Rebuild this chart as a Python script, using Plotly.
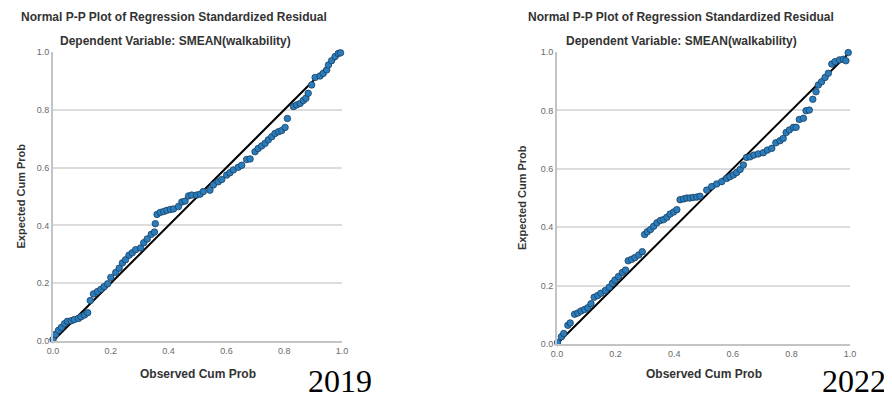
import plotly.graph_objects as go

# ---- Data ----
obs_2019 = [0.0, 0.009, 0.019, 0.029, 0.04, 0.05, 0.063, 0.074, 0.088, 0.097, 0.109, 0.12, 0.129, 0.14,
            0.154, 0.166, 0.177, 0.189, 0.2, 0.217, 0.229, 0.24, 0.251, 0.263, 0.274, 0.286, 0.303,
            0.314, 0.326, 0.34, 0.351, 0.354, 0.36, 0.371, 0.383, 0.394, 0.406, 0.417, 0.434, 0.446,
            0.457, 0.469, 0.48, 0.497, 0.509, 0.52, 0.543, 0.555, 0.572, 0.584, 0.601, 0.612, 0.624,
            0.641, 0.653, 0.67, 0.682, 0.699, 0.71, 0.722, 0.734, 0.745, 0.757, 0.768, 0.78, 0.791,
            0.803, 0.811, 0.832, 0.843, 0.855, 0.866, 0.875, 0.883, 0.895, 0.907, 0.924, 0.935,
            0.947, 0.953, 0.964, 0.976, 0.987, 0.995]
exp_2019 = [0.005, 0.023, 0.037, 0.047, 0.06, 0.068, 0.07, 0.074, 0.078, 0.084, 0.09, 0.098, 0.14, 0.163,
            0.171, 0.179, 0.188, 0.198, 0.22, 0.237, 0.252, 0.27, 0.281, 0.297, 0.305, 0.316, 0.322,
            0.34, 0.353, 0.369, 0.377, 0.406, 0.438, 0.445, 0.448, 0.452, 0.455, 0.457, 0.465, 0.481,
            0.484, 0.502, 0.505, 0.505, 0.508, 0.517, 0.522, 0.54, 0.551, 0.559, 0.574, 0.582, 0.592,
            0.601, 0.608, 0.628, 0.63, 0.655, 0.666, 0.675, 0.684, 0.696, 0.707, 0.718, 0.724, 0.728,
            0.739, 0.77, 0.811, 0.817, 0.822, 0.832, 0.84, 0.857, 0.886, 0.912, 0.917, 0.926, 0.938,
            0.955, 0.97, 0.984, 0.995, 0.997]

obs_2022 = [0.002, 0.015, 0.023, 0.037, 0.045, 0.06, 0.071, 0.082, 0.094, 0.105, 0.116, 0.127, 0.139,
            0.15, 0.165, 0.178, 0.189, 0.198, 0.21, 0.223, 0.234, 0.243, 0.255, 0.266, 0.279, 0.291,
            0.299, 0.308, 0.319, 0.33, 0.341, 0.353, 0.364, 0.375, 0.386, 0.398, 0.409, 0.42, 0.432,
            0.443, 0.454, 0.465, 0.477, 0.488, 0.511, 0.528, 0.545, 0.562, 0.579, 0.59, 0.602, 0.613,
            0.625, 0.636, 0.647, 0.659, 0.672, 0.687, 0.704, 0.718, 0.733, 0.747, 0.761, 0.772, 0.782,
            0.793, 0.807, 0.816, 0.827, 0.841, 0.85, 0.861, 0.873, 0.884, 0.892, 0.903, 0.915, 0.926,
            0.938, 0.949, 0.964, 0.977, 0.986, 0.994]
exp_2022 = [0.005, 0.025, 0.036, 0.064, 0.072, 0.102, 0.106, 0.113, 0.118, 0.124, 0.138, 0.16, 0.166,
            0.174, 0.183, 0.194, 0.208, 0.219, 0.231, 0.245, 0.253, 0.285, 0.29, 0.296, 0.305, 0.316,
            0.375, 0.384, 0.392, 0.403, 0.415, 0.423, 0.426, 0.434, 0.445, 0.452, 0.46, 0.494, 0.497,
            0.5, 0.5, 0.502, 0.503, 0.506, 0.527, 0.539, 0.548, 0.556, 0.567, 0.573, 0.579, 0.587,
            0.598, 0.613, 0.639, 0.641, 0.647, 0.651, 0.655, 0.664, 0.67, 0.689, 0.696, 0.704, 0.724,
            0.733, 0.742, 0.742, 0.769, 0.773, 0.799, 0.801, 0.838, 0.864, 0.887, 0.898, 0.913, 0.927,
            0.959, 0.967, 0.973, 0.975, 0.97, 0.998]

ref_line = [0, 1]
tick_vals = [0, 0.2, 0.4, 0.6, 0.8, 1.0]
tick_text = ["0.0", "0.2", "0.4", "0.6", "0.8", "1.0"]

title_text = "Normal P-P Plot of Regression Standardized Residual"
subtitle_text = "Dependent Variable: SMEAN(walkability)"
xlabel = "Observed Cum Prob"
ylabel = "Expected Cum Prob"
years = ["2019", "2022"]

# ---- Figure ----
OFF = 8  # page body margin
W, H = 892 - OFF, 401 - OFF
FONT = "Liberation Sans, Arial, sans-serif"
PT_COLOR = "#2a7dbd"
PT_EDGE = "#1b3f60"


def px(x):
    return (x - OFF) / W


def py(y):
    return 1 - (y - OFF) / H


fig = go.Figure()

panels = [
    dict(obs=obs_2019, exp=exp_2019, x0=53, x1=342, y0=341, y1=52, xa="x", ya="y",
         title_x=174, sub_x=175, ylab_x=20, year_x=340),
    dict(obs=obs_2022, exp=exp_2022, x0=557, x1=850, y0=344, y1=52, xa="x2", ya="y2",
         title_x=681, sub_x=681, ylab_x=522, year_x=854),
]

for i, p in enumerate(panels):
    fig.add_trace(go.Scatter(x=ref_line, y=ref_line, mode="lines", xaxis=p["xa"], yaxis=p["ya"],
                             line=dict(color="black", width=2), showlegend=False, hoverinfo="skip",
                             cliponaxis=False))
    fig.add_trace(go.Scatter(x=p["obs"], y=p["exp"], mode="markers", xaxis=p["xa"], yaxis=p["ya"],
                             marker=dict(size=6.5, color=PT_COLOR, line=dict(color=PT_EDGE, width=0.8)),
                             showlegend=False, cliponaxis=False))
    suffix = "" if i == 0 else str(i + 1)
    axis_common = dict(range=[0, 1], tickvals=tick_vals, ticktext=tick_text, ticks="",
                       tickfont=dict(family=FONT, size=9, color="#6a6a6a"), zeroline=False,
                       showline=True, linecolor="#c4c4c4", linewidth=2, automargin=False)
    fig.layout["xaxis" + suffix] = dict(domain=[px(p["x0"]), px(p["x1"])], anchor="y" + suffix,
                                        showgrid=False, **axis_common)
    fig.layout["yaxis" + suffix] = dict(domain=[py(p["y0"]), py(p["y1"])], anchor="x" + suffix,
                                        showgrid=True, gridcolor="#dcdcdc", gridwidth=1.5, **axis_common)

    cx = (p["x0"] + p["x1"]) / 2
    cy = (p["y0"] + p["y1"]) / 2
    common = dict(xref="paper", yref="paper", showarrow=False, xanchor="center", yanchor="middle")
    fig.add_annotation(x=px(p["title_x"]), y=py(17), text="<b>" + title_text + "</b>",
                       font=dict(family=FONT, size=12, color="#333"), **common)
    fig.add_annotation(x=px(p["sub_x"]), y=py(41), text="<b>" + subtitle_text + "</b>",
                       font=dict(family=FONT, size=12, color="#333"), **common)
    fig.add_annotation(x=px(cx), y=py(374), text="<b>" + xlabel + "</b>",
                       font=dict(family=FONT, size=12, color="#333"), **common)
    fig.add_annotation(x=px(p["ylab_x"]), y=py(cy), text="<b>" + ylabel + "</b>", textangle=-90,
                       font=dict(family=FONT, size=11, color="#333"), **common)
    fig.add_annotation(x=px(p["year_x"]), y=py(400), text=years[i], xref="paper", yref="paper",
                       showarrow=False, xanchor="center", yanchor="bottom", borderpad=0,
                       font=dict(family="Liberation Serif, Times New Roman, serif", size=32, color="black"))

fig.update_layout(width=W, height=H, margin=dict(l=0, r=0, t=0, b=0),
                  paper_bgcolor="white", plot_bgcolor="white")

fig.write_html("out.html")
